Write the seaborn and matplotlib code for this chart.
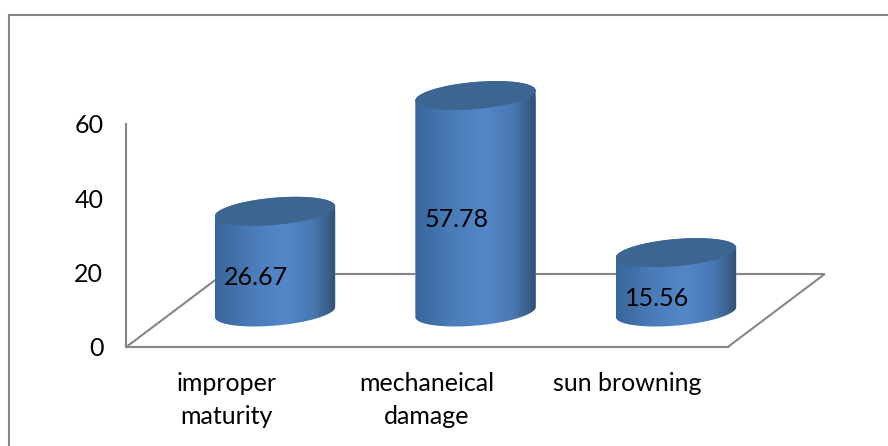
import numpy as np
import pandas as pd
import matplotlib
matplotlib.use("Agg")
import matplotlib.pyplot as plt
from matplotlib.colors import LinearSegmentedColormap
from matplotlib.patches import Polygon, Rectangle
import seaborn as sns

categories = ["improper\nmaturity", "mechaneical\ndamage", "sun browning"]
values = [26.67, 57.78, 15.56]
value_labels = ["26.67", "57.78", "15.56"]
y_ticks = [0, 20, 40, 60]

W, H = 888, 446
X_UNIT = 200.5      # pixels per category
Y_UNIT = 3.72       # pixels per value unit
X_ZERO, Y_ZERO = 275, 347

BAR_WIDTH = 0.6
DEPTH_X = 97 / X_UNIT       # horizontal run of the floor, front to back
DEPTH_Y = 73 / Y_UNIT       # vertical rise of the floor, front to back
BASE = DEPTH_Y / 2          # cylinders stand in the middle of the floor
RIM_B = 13.6 / Y_UNIT       # minor radius of a cylinder's end
RIM_SHEAR = 5 / Y_UNIT      # tilt of a cylinder's end
FONT_SIZE = 18
LINE = "#868686"
TOP_FACE = "#3c6591"
BODY = LinearSegmentedColormap.from_list(
    "body",
    [(0.0, "#38659b"), (0.3, "#4a7cb8"), (0.58, "#5387c8"),
     (0.8, "#4a79b4"), (0.92, "#3c6390"), (1.0, "#324f74")],
)

sns.set_theme(style="white")
plt.rcParams["font.family"] = ["Lato", "DejaVu Sans"]

fig = plt.figure(figsize=(W / 100, H / 100), dpi=100)
ax = fig.add_axes([0, 0, 1, 1])
ax.patch.set_alpha(0)

frame = pd.DataFrame({"category": categories, "value": values})
sns.barplot(data=frame, x="category", y="value", width=BAR_WIDTH, bottom=BASE,
            color="#4a7cb8", saturation=1, ax=ax, zorder=2)


def rim(xc, yc, t):
    return np.column_stack((xc + BAR_WIDTH / 2 * np.cos(t),
                            yc + RIM_B * np.sin(t) + RIM_SHEAR * np.cos(t)))


# Each bar becomes a shaded cylinder: gradient body clipped to its outline, plus a flat top.
gradient = np.linspace(0, 1, 256).reshape(1, -1)
for bar in ax.patches[:len(values)]:
    xc = bar.get_x() + bar.get_width() / 2
    y0, y1 = bar.get_y(), bar.get_y() + bar.get_height()
    upper = rim(xc, y1, np.linspace(0, np.pi, 80))
    lower = rim(xc, y0 - 0.4, np.linspace(np.pi, 2 * np.pi, 80))
    outline = Polygon(np.vstack((upper, lower)), closed=True,
                      transform=ax.transData, fc="none", ec="none")
    ax.add_patch(outline)
    bar.set_clip_path(outline)
    im = ax.imshow(gradient, cmap=BODY, aspect="auto", zorder=2.1,
                   extent=(bar.get_x(), bar.get_x() + bar.get_width(),
                           y0 - 2 * RIM_B, y1 + 2 * RIM_B))
    im.set_clip_path(outline)
    ax.add_patch(Polygon(rim(xc, y1, np.linspace(0, 2 * np.pi, 160)), closed=True,
                         fc=TOP_FACE, ec="none", zorder=2.2))

# Floor of the 3D plot: the front edge is the bottom spine, the rest are plain lines.
n = len(categories)
front_l, front_r = -0.5 - DEPTH_X / 2, n - 0.5 - DEPTH_X / 2
back_l, back_r = front_l + DEPTH_X, front_r + DEPTH_X
ax.plot([front_l, back_l, back_r, front_r], [0, DEPTH_Y, DEPTH_Y, 0],
        color=LINE, lw=1.5, zorder=1, solid_joinstyle="miter")

for bar, text in zip(ax.patches[:len(values)], value_labels):
    xc = bar.get_x() + bar.get_width() / 2
    ym = bar.get_y() + bar.get_height() / 2
    ax.annotate(text, (xc, ym), xytext=(-19 * 0.72, -16.5 * 0.72),
                textcoords="offset points", ha="center", va="center",
                fontsize=FONT_SIZE, color="black", zorder=3)

ax.set_xlim(-X_ZERO / X_UNIT, (W - X_ZERO) / X_UNIT)
ax.set_ylim((Y_ZERO - H) / Y_UNIT, Y_ZERO / Y_UNIT)
ax.set_xlabel("")
ax.set_ylabel("")

ax.spines[["top", "right"]].set_visible(False)
ax.spines["left"].set_position(("data", front_l))
ax.spines["left"].set_bounds(0, y_ticks[-1])
ax.spines["bottom"].set_position(("data", 0))
ax.spines["bottom"].set_bounds(front_l, front_r)
for side in ("left", "bottom"):
    ax.spines[side].set_color(LINE)
    ax.spines[side].set_linewidth(1.5)

ax.set_yticks(y_ticks)
ax.set_xticks(np.arange(n) - DEPTH_X / 2)
ax.set_xticklabels(categories, linespacing=1.5)
ax.tick_params(axis="y", length=0, pad=23 * 0.72, labelsize=FONT_SIZE, labelcolor="black")
ax.tick_params(axis="x", length=0, pad=25 * 0.72, labelsize=FONT_SIZE, labelcolor="black")
for label in ax.get_yticklabels():
    label.set_verticalalignment("center_baseline")

# Outer chart border; its right and bottom sides fall outside the canvas.
fig.add_artist(Rectangle((8.5 / W, -1), 2, 1 + (H - 15) / H, transform=fig.transFigure,
                         fc="none", ec=LINE, lw=1.5))

fig.savefig("out.png", dpi=100)
